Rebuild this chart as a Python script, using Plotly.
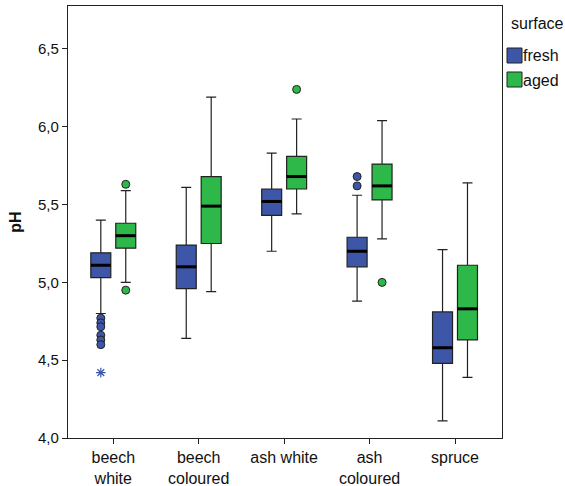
import plotly.graph_objects as go

categories = ["beech<br>white", "beech<br>coloured", "ash white", "ash<br>coloured", "spruce"]
groups = ["fresh", "aged"]

fresh_lower = [4.80, 4.64, 5.20, 4.88, 4.11]
fresh_q1 = [5.03, 4.96, 5.43, 5.10, 4.48]
fresh_median = [5.11, 5.10, 5.52, 5.20, 4.58]
fresh_q3 = [5.19, 5.24, 5.60, 5.29, 4.81]
fresh_upper = [5.40, 5.61, 5.83, 5.56, 5.21]

aged_lower = [5.00, 4.94, 5.44, 5.28, 4.39]
aged_q1 = [5.22, 5.25, 5.60, 5.53, 4.63]
aged_median = [5.30, 5.49, 5.68, 5.62, 4.83]
aged_q3 = [5.38, 5.68, 5.81, 5.76, 5.11]
aged_upper = [5.59, 6.19, 6.05, 6.04, 5.64]

# outliers: (category index, value)
fresh_out_cat = [0, 0, 0, 0, 0, 0, 3, 3]
fresh_out_val = [4.77, 4.74, 4.715, 4.66, 4.63, 4.60, 5.68, 5.62]
fresh_extreme_cat = [0]
fresh_extreme_val = [4.42]
aged_out_cat = [0, 0, 2, 3]
aged_out_val = [5.63, 4.95, 6.24, 5.00]

y_ticks = [4.0, 4.5, 5.0, 5.5, 6.0, 6.5]

colors = {"fresh": "#3d56a8", "aged": "#2eb84a"}
offset = {"fresh": -0.146, "aged": 0.146}
bw = 0.234
edge = "#222222"
FONT = "Liberation Sans, Arial"

stats = {
    "fresh": (fresh_lower, fresh_q1, fresh_median, fresh_q3, fresh_upper),
    "aged": (aged_lower, aged_q1, aged_median, aged_q3, aged_upper),
}

fig = go.Figure()
for g in groups:
    lo, q1, med, q3, up = stats[g]
    xs = [i + offset[g] for i in range(len(categories))]
    fig.add_trace(go.Box(
        x=xs, q1=q1, median=med, q3=q3, lowerfence=lo, upperfence=up,
        width=bw, whiskerwidth=0.5, fillcolor=colors[g],
        line=dict(color=edge, width=1.2), showlegend=False, hoverinfo="skip",
    ))
    # thick median lines
    mx, my = [], []
    for x, m in zip(xs, med):
        mx += [x - bw / 2, x + bw / 2, None]
        my += [m, m, None]
    fig.add_trace(go.Scatter(x=mx, y=my, mode="lines",
                             line=dict(color="black", width=3),
                             showlegend=False, hoverinfo="skip"))

fig.add_trace(go.Scatter(
    x=[c + offset["fresh"] for c in fresh_out_cat], y=fresh_out_val, mode="markers",
    marker=dict(symbol="circle", size=8, color=colors["fresh"], line=dict(color=edge, width=1)),
    showlegend=False, hoverinfo="skip"))
fig.add_trace(go.Scatter(
    x=[c + offset["fresh"] for c in fresh_extreme_cat], y=fresh_extreme_val, mode="markers",
    marker=dict(symbol="asterisk-open", size=8, color=colors["fresh"], line=dict(color=colors["fresh"], width=1.2)),
    showlegend=False, hoverinfo="skip"))
fig.add_trace(go.Scatter(
    x=[c + offset["aged"] for c in aged_out_cat], y=aged_out_val, mode="markers",
    marker=dict(symbol="circle", size=8, color=colors["aged"], line=dict(color=edge, width=1)),
    showlegend=False, hoverinfo="skip"))

# manual legend
L, R, T, B = 68, 502, 6, 438
def px(x):
    return (x - L) / (R - L)
def py(y):
    return (B - y) / (B - T)

fig.add_annotation(x=px(510), y=py(23), xref="paper", yref="paper", text="surface",
                   showarrow=False, xanchor="left", yanchor="middle", borderpad=0,
                   font=dict(size=16, color="#111", family=FONT))
for g, cy in zip(groups, [56, 80]):
    fig.add_shape(type="rect", xref="paper", yref="paper",
                  x0=px(507), x1=px(522), y0=py(cy - 8), y1=py(cy + 7),
                  fillcolor=colors[g], line=dict(color=edge, width=1))
    fig.add_annotation(x=px(522), y=py(cy), xref="paper", yref="paper", text=g,
                       showarrow=False, xanchor="left", yanchor="middle", borderpad=0,
                       font=dict(size=16, color="#111", family=FONT))

fig.update_layout(
    width=565, height=486,
    margin=dict(l=L, r=565 - R, t=T, b=486 - B),
    paper_bgcolor="white", plot_bgcolor="white",
    separators=",.",
    font=dict(family=FONT, size=16, color="#111"),
    xaxis=dict(range=[-0.53, 4.55], tickmode="array", automargin=False,
               tickvals=list(range(len(categories))), ticktext=categories,
               ticks="outside", ticklen=5, tickcolor="#222", showgrid=False,
               zeroline=False, showline=True, linecolor="#222", linewidth=1.2, mirror=True,
               tickfont=dict(size=16)),
    yaxis=dict(range=[4.0, 6.776], tickvals=y_ticks, tickformat=".1f", automargin=False,
               ticks="outside", ticklen=5, tickcolor="#222", showgrid=False,
               zeroline=False, showline=True, linecolor="#222", linewidth=1.2, mirror=True,
               title=dict(text="<b>pH</b>", font=dict(size=16), standoff=12),
               tickfont=dict(size=15)),
)

fig.write_html("out.html", config={"displayModeBar": False},
               post_script="document.body.style.margin='0';")
